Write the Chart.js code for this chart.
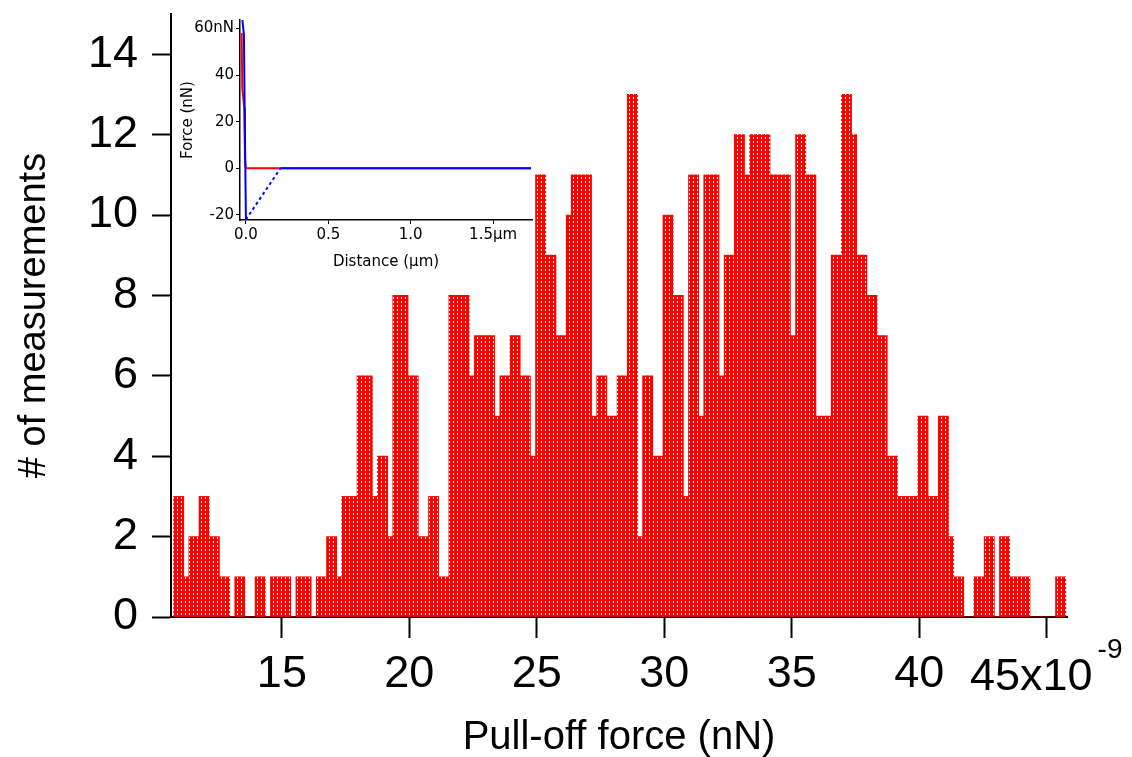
<!DOCTYPE html>
<html>
<head>
<meta charset="utf-8">
<script src="https://cdn.jsdelivr.net/npm/chart.js@4.4.0/dist/chart.umd.min.js"></script>
<style>
  body { margin: 0; background: #fff; }
  #wrap { position: relative; width: 1132px; height: 757px; }
  #histChart { position: absolute; left: 0; top: 0; }
  #insetChart { position: absolute; left: 160px; top: 0; }
</style>
</head>
<body>
<div id="wrap">
  <canvas id="histChart" width="1132" height="757"></canvas>
  <canvas id="insetChart" width="380" height="280"></canvas>
</div>
<script>
// histogram: 0.2 nN bins starting at 10.75 nN
const binStart = 10.75;
const binWidth = 0.2;
const counts = [
  3, 3, 1, 2, 2, 3, 3, 2, 2, 1, 1, 0, 1, 1, 0, 0, 1, 1, 0, 1, 1, 1, 1, 0, 1,
  1, 1, 0, 1, 1, 2, 2, 1, 3, 3, 3, 6, 6, 6, 3, 4, 4, 2, 8, 8, 8, 6, 6, 2, 2,
  3, 3, 1, 1, 8, 8, 8, 8, 6, 7, 7, 7, 7, 5, 6, 6, 7, 7, 6, 6, 4, 11, 11, 9, 9,
  7, 7, 10, 11, 11, 11, 11, 5, 6, 6, 5, 5, 6, 6, 13, 13, 2, 6, 6, 4, 4, 10, 10, 8, 8,
  3, 11, 11, 5, 11, 11, 11, 6, 9, 9, 12, 12, 11, 12, 12, 12, 12, 11, 11, 11, 11, 7, 12, 12, 11,
  11, 5, 5, 5, 9, 9, 13, 13, 12, 9, 9, 8, 8, 7, 7, 4, 4, 3, 3, 3, 3, 5, 5, 3, 3,
  5, 5, 2, 1, 1, 0, 0, 1, 1, 2, 2, 0, 2, 2, 1, 1, 1, 1, 0, 0, 0, 0, 0, 1, 1
];
const xTicks = [15, 20, 25, 30, 35, 40, 45];
const yTicks = [0, 2, 4, 6, 8, 10, 12, 14];

// inset: force curve
const approachDist = [-0.026, -0.022, -0.01, -0.006, 0.0, 1.73];
const approachForce = [58, 34, 26, 4, 0, 0];
const retractDist = [-0.022, -0.012, -0.008, 0.0, 0.21, 1.73];
const retractForce = [64, 57, 27, -22, 0, 0];
const insetXTicks = [0, 0.5, 1.0, 1.5];
const insetYTicks = [-20, 0, 20, 40, 60];

const FONT = '"Liberation Sans", Arial, sans-serif';
const INSET_FONT = '"DejaVu Sans", sans-serif';
Chart.defaults.font.family = FONT;
Chart.defaults.color = '#000';

function dotPattern() {
  const c = document.createElement('canvas');
  c.width = 4;
  c.height = 4;
  const g = c.getContext('2d');
  g.fillStyle = '#ff0000';
  g.fillRect(0, 0, 4, 4);
  g.fillStyle = '#ffffff';
  g.fillRect(1, 1, 1, 2);
  return g.createPattern(c, 'repeat');
}

const histPoints = counts.map((c, i) => ({ x: binStart + binWidth * (i + 0.5), y: c }));

// the last x label carries the exponent, drawn by hand
const expLabel = {
  id: 'expLabel',
  afterDraw(chart) {
    const { ctx, chartArea } = chart;
    const px = chart.scales.x.getPixelForValue(45);
    ctx.save();
    ctx.fillStyle = '#000';
    ctx.textBaseline = 'alphabetic';
    ctx.font = '45px ' + FONT;
    ctx.textAlign = 'right';
    ctx.fillText('45x10', px + 46, chartArea.bottom + 73);
    ctx.font = '28px ' + FONT;
    ctx.textAlign = 'left';
    ctx.fillText('-9', px + 51, chartArea.bottom + 41);
    ctx.restore();
  }
};

function noPad(axis) {
  axis.paddingTop = 0;
  axis.paddingBottom = 0;
  axis.paddingLeft = 0;
  axis.paddingRight = 0;
}

new Chart(document.getElementById('histChart'), {
  type: 'bar',
  data: {
    datasets: [{
      data: histPoints,
      backgroundColor: dotPattern(),
      borderWidth: 0,
      barPercentage: 1.0,
      categoryPercentage: 1.0
    }]
  },
  options: {
    responsive: false,
    animation: false,
    devicePixelRatio: 1,
    layout: { padding: { top: 14, right: 65, left: 0, bottom: 0 } },
    plugins: { legend: { display: false }, tooltip: { enabled: false } },
    scales: {
      x: {
        type: 'linear',
        min: 10.65,
        max: 45.8,
        offset: false,
        afterBuildTicks: axis => { axis.ticks = xTicks.map(v => ({ value: v })); },
        afterFit: axis => { axis.height = 140; noPad(axis); },
        ticks: {
          font: { size: 45 },
          padding: 10,
          maxRotation: 0,
          callback: v => (v === 45 ? '' : String(v))
        },
        grid: {
          display: true,
          drawOnChartArea: false,
          offset: false,
          tickLength: 21,
          tickWidth: 2,
          tickColor: '#000'
        },
        border: { display: true, color: '#000', width: 2 },
        title: {
          display: true,
          text: 'Pull-off force (nN)',
          font: { size: 40 },
          padding: { top: 0, bottom: -5 }
        }
      },
      y: {
        min: 0,
        max: 15,
        afterBuildTicks: axis => { axis.ticks = yTicks.map(v => ({ value: v })); },
        afterFit: axis => { axis.width = 171; noPad(axis); },
        ticks: { font: { size: 45 }, padding: 14 },
        grid: {
          display: true,
          drawOnChartArea: false,
          tickLength: 19,
          tickWidth: 2,
          tickColor: '#000'
        },
        border: { display: true, color: '#000', width: 2 },
        title: {
          display: true,
          text: '# of measurements',
          font: { size: 38 },
          padding: { top: 12, bottom: 0 }
        }
      }
    }
  },
  plugins: [expLabel]
});

const toPoints = (xs, ys) => xs.map((x, i) => ({ x: x, y: ys[i] }));

new Chart(document.getElementById('insetChart'), {
  type: 'line',
  data: {
    datasets: [
      {
        label: 'retract',
        data: toPoints(retractDist, retractForce),
        borderColor: '#0000ff',
        borderWidth: 2,
        pointRadius: 0,
        order: 0,
        segment: { borderDash: ctx => (ctx.p0DataIndex === 3 ? [3, 3] : undefined) }
      },
      {
        label: 'approach',
        data: toPoints(approachDist, approachForce),
        borderColor: '#ff0000',
        borderWidth: 2,
        pointRadius: 0,
        order: 1
      }
    ]
  },
  options: {
    responsive: false,
    animation: false,
    devicePixelRatio: 1,
    layout: { padding: { top: 20, right: 8, left: 0, bottom: 0 } },
    plugins: { legend: { display: false }, tooltip: { enabled: false } },
    scales: {
      x: {
        type: 'linear',
        min: -0.036,
        max: 1.736,
        afterBuildTicks: axis => { axis.ticks = insetXTicks.map(v => ({ value: v })); },
        afterFit: axis => { axis.height = 60; noPad(axis); },
        ticks: {
          font: { family: INSET_FONT, size: 15 },
          padding: 2,
          maxRotation: 0,
          callback: v => (v === 1.5 ? '1.5\u00b5m' : v.toFixed(1))
        },
        grid: { drawOnChartArea: false, tickLength: 4, tickColor: '#000' },
        border: { display: true, color: '#000', width: 1.5 },
        title: {
          display: true,
          text: 'Distance (\u00b5m)',
          font: { family: INSET_FONT, size: 15 },
          padding: { top: 0, bottom: 9 }
        }
      },
      y: {
        min: -22.2,
        max: 63.6,
        afterBuildTicks: axis => { axis.ticks = insetYTicks.map(v => ({ value: v })); },
        afterFit: axis => { axis.width = 80; noPad(axis); },
        ticks: {
          font: { family: INSET_FONT, size: 15 },
          padding: 2,
          callback: v => (v === 60 ? '60nN' : String(v))
        },
        grid: { drawOnChartArea: false, tickLength: 4, tickColor: '#000' },
        border: { display: true, color: '#000', width: 1.5 },
        title: {
          display: true,
          text: 'Force (nN)',
          font: { family: INSET_FONT, size: 15 },
          padding: { top: 19, bottom: 0 }
        }
      }
    }
  }
});
</script>
</body>
</html>
